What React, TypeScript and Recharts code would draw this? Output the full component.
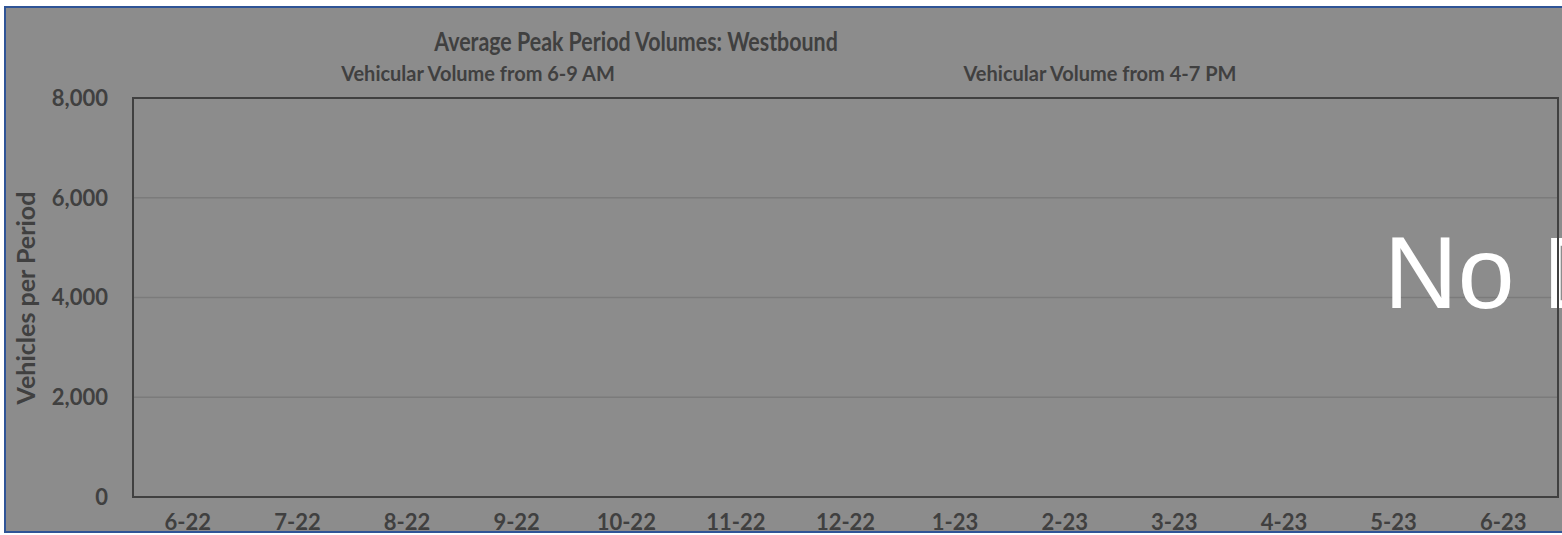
import React from 'react'
import { ComposedChart, Bar, XAxis, YAxis, CartesianGrid, ReferenceArea } from 'recharts'

// months on the x axis
const months = ['6-22', '7-22', '8-22', '9-22', '10-22', '11-22', '12-22', '1-23', '2-23', '3-23', '4-23', '5-23', '6-23']
// no counts were collected for this direction, so both series are empty
const amVolumes: (number | null)[] = [null, null, null, null, null, null, null, null, null, null, null, null, null]
const pmVolumes: (number | null)[] = [null, null, null, null, null, null, null, null, null, null, null, null, null]
const yTicks = [0, 2000, 4000, 6000, 8000]

const title = 'Average Peak Period Volumes: Westbound'
const amLabel = 'Vehicular Volume from 6-9 AM'
const pmLabel = 'Vehicular Volume from 4-7 PM'
const yLabel = 'Vehicles per Period'
const emptyNote = 'No Data'

const data = months.map((m, i) => ({ month: m, am: amVolumes[i], pm: pmVolumes[i] }))

const BG = '#8c8c8c'
const INK = '#404040'
const FONT = 'Lato, "Open Sans", sans-serif'

export default function App() {
  return (
    <div style={{ position: 'relative', width: 1562, height: 535, overflow: 'hidden', background: '#fff' }}>
      <style>{'body{margin:0}'}</style>
      <div
        style={{
          position: 'absolute',
          left: 4,
          top: 6,
          width: 1600,
          height: 527,
          background: BG,
          border: '2px solid #2f5496',
          boxSizing: 'border-box',
        }}
      />
      <div style={{ position: 'absolute', left: 0, top: 0 }}>
        <ComposedChart
          width={1562}
          height={535}
          data={data}
          margin={{ top: 98, right: 4, bottom: 0, left: 0 }}
          barCategoryGap="30%"
        >
          <CartesianGrid vertical={false} stroke="#7b7b7b" strokeWidth={1.5} />
          <XAxis
            dataKey="month"
            height={38}
            tickLine={false}
            tickSize={0}
            tickMargin={17}
            axisLine={{ stroke: INK, strokeWidth: 2 }}
            tick={{ fill: INK, fontSize: 22, fontWeight: 700, fontFamily: FONT }}
            interval={0}
          />
          <YAxis
            type="number"
            width={133}
            domain={[0, 8000]}
            allowDataOverflow
            ticks={yTicks}
            interval={0}
            tickLine={false}
            tickSize={0}
            tickMargin={25}
            axisLine={{ stroke: INK, strokeWidth: 2 }}
            tickFormatter={(v: number) => v.toLocaleString('en-US')}
            tick={{ fill: INK, fontSize: 22, fontWeight: 700, fontFamily: FONT }}
          />
          <ReferenceArea y1={0} y2={8000} fill="none" stroke={INK} strokeWidth={2} ifOverflow="visible" />
          <Bar dataKey="am" fill="#4472c4" isAnimationActive={false} />
          <Bar dataKey="pm" fill="#ed7d31" isAnimationActive={false} />

          <text
            x={0}
            y={0}
            transform="translate(636 51) scale(1 1.2)"
            textAnchor="middle"
            fill={INK}
            fontSize={21.4}
            fontWeight={700}
            fontFamily={FONT}
          >
            {title}
          </text>
          <text x={0} y={0} transform="translate(478 80.5) scale(1 1.08)" textAnchor="middle" fill={INK} fontSize={20} fontWeight={700} fontFamily={FONT}>
            {amLabel}
          </text>
          <text x={0} y={0} transform="translate(1100 80.5) scale(1 1.08)" textAnchor="middle" fill={INK} fontSize={20} fontWeight={700} fontFamily={FONT}>
            {pmLabel}
          </text>
          <text
            x={0}
            y={0}
            transform="translate(35 298) rotate(-90)"
            textAnchor="middle"
            fill={INK}
            fontSize={25}
            fontWeight={700}
            fontFamily={FONT}
          >
            {yLabel}
          </text>
          <text x={1384} y={308} fill="#ffffff" fontSize={102} fontFamily='"Liberation Sans", Arial, sans-serif'>
            {emptyNote}
          </text>
        </ComposedChart>
      </div>
    </div>
  )
}
